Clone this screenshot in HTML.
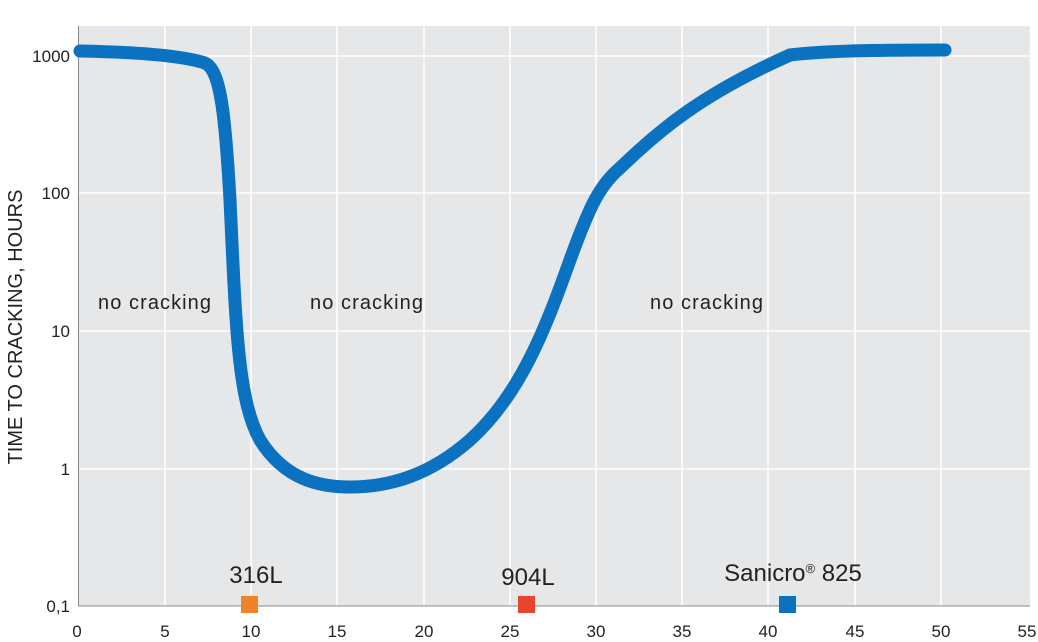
<!DOCTYPE html>
<html><head><style>
body{margin:0;background:#fff;}
text{font-family:"Liberation Sans",sans-serif;fill:#222;}
</style></head><body>
<svg width="1038" height="637" viewBox="0 0 1038 637" xmlns="http://www.w3.org/2000/svg">
<rect x="78" y="26" width="952" height="580" fill="#e6e7e9"/>
<g stroke="#fff" stroke-width="1.5">
<line x1="165" y1="26" x2="165" y2="606"/><line x1="251" y1="26" x2="251" y2="606"/>
<line x1="337" y1="26" x2="337" y2="606"/><line x1="424" y1="26" x2="424" y2="606"/>
<line x1="510" y1="26" x2="510" y2="606"/><line x1="596" y1="26" x2="596" y2="606"/>
<line x1="682" y1="26" x2="682" y2="606"/><line x1="768" y1="26" x2="768" y2="606"/>
<line x1="855" y1="26" x2="855" y2="606"/><line x1="941" y1="26" x2="941" y2="606"/>
<line x1="78" y1="56" x2="1030" y2="56"/><line x1="78" y1="193" x2="1030" y2="193"/>
<line x1="78" y1="331" x2="1030" y2="331"/><line x1="78" y1="469" x2="1030" y2="469"/>
</g>
<line x1="78.5" y1="26" x2="78.5" y2="606" stroke="#888" stroke-width="1"/>
<line x1="78" y1="606" x2="1030" y2="606" stroke="#888" stroke-width="1"/>
<path d="M80,51 C130,52 180,55 205,63 C220,70 225,110 230,200 C236,330 238,400 260,440 C285,480 320,487 350,487 C390,487 430,475 470,440 C520,395 545,330 570,260 C590,205 600,185 620,168 C660,130 700,95 790,55 C830,50 900,50 945,50" fill="none" stroke="#0a72c0" stroke-width="13" stroke-linecap="round"/>
<g font-size="17" text-anchor="end">
<text x="70" y="62">1000</text><text x="70" y="199">100</text><text x="70" y="337">10</text>
<text x="70" y="475">1</text><text x="70" y="612">0,1</text></g>
<g font-size="17" text-anchor="middle">
<text x="77" y="637">0</text><text x="165" y="637">5</text><text x="251" y="637">10</text><text x="337" y="637">15</text>
<text x="424" y="637">20</text><text x="510" y="637">25</text><text x="596" y="637">30</text><text x="682" y="637">35</text>
<text x="768" y="637">40</text><text x="855" y="637">45</text><text x="941" y="637">50</text><text x="1027" y="637">55</text></g>
<text transform="translate(22,327) rotate(-90)" font-size="20" text-anchor="middle">TIME TO CRACKING, HOURS</text>
<g font-size="20" textLength="113"><text x="98" y="309" textLength="113">no cracking</text><text x="310" y="309" textLength="113">no cracking</text><text x="650" y="309" textLength="113">no cracking</text></g>
<g font-size="24" text-anchor="middle"><text x="256" y="583">316L</text><text x="528" y="585">904L</text><text x="793" y="581">Sanicro<tspan font-size="13" dy="-8">®</tspan><tspan dy="8"> 825</tspan></text></g>
<rect x="241" y="596" width="17" height="17" fill="#f0832a"/>
<rect x="518" y="596" width="17" height="17" fill="#e8442f"/>
<rect x="779" y="596" width="17" height="17" fill="#0a72c0"/>
</svg>
</body></html>
